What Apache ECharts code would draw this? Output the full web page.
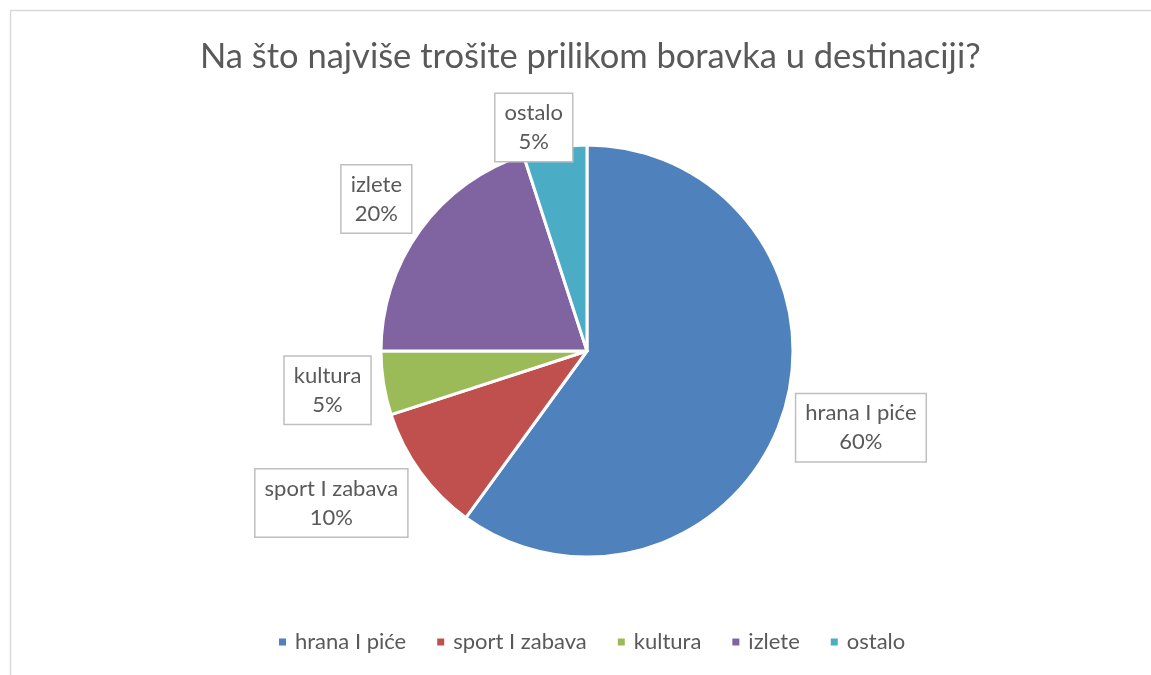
<!DOCTYPE html>
<html>
<head>
<meta charset="utf-8">
<script src="https://cdn.jsdelivr.net/npm/echarts@6/dist/echarts.min.js"></script>
<style>
  html, body { margin: 0; padding: 0; background: #fff; }
  #chart { width: 1151px; height: 675px; }
</style>
</head>
<body>
<div id="chart"></div>
<script>
// podaci
const categories = ['hrana I piće', 'sport I zabava', 'kultura', 'izlete', 'ostalo']
const values = [60, 10, 5, 20, 5]
const colors = ['#4F81BD', '#C0504D', '#9BBB59', '#8064A2', '#4BACC6']

// pomak središta oznake od ruba kruga (na sredini isječka)
const labelOffset = [[78, 13], [-89, 31], [-56, 7], [-44, -31], [-21, -20]]

const cx = 587
const cy = 351
const radius = 206
const total = values.reduce((s, v) => s + v, 0)

const chart = echarts.init(document.getElementById('chart'))

const option = {
  backgroundColor: '#fff',
  title: {
    text: 'Na što najviše trošite prilikom boravka u destinaciji?',
    left: 195,
    top: 34,
    textStyle: { fontSize: 34.5, fontWeight: 'normal', color: '#595959', fontFamily: 'Lato, sans-serif' }
  },
  legend: {
    bottom: 17,
    left: 272,
    itemWidth: 9,
    itemHeight: 9,
    itemGap: 29,
    icon: 'rect',
    textStyle: { fontSize: 22, color: '#595959', fontFamily: 'Lato, sans-serif', padding: [0, 0, 0, 3] },
    data: categories
  },
  graphic: [
    {
      type: 'rect',
      shape: { x: 10.5, y: 10.5, width: 1200, height: 800 },
      style: { fill: 'none', stroke: '#d9d9d9', lineWidth: 1.5 },
      silent: true
    }
  ],
  series: [
    {
      type: 'pie',
      center: [cx, cy],
      radius: radius,
      startAngle: 90,
      clockwise: true,
      avoidLabelOverlap: false,
      itemStyle: { borderColor: '#fff', borderWidth: 3 },
      emphasis: { disabled: true },
      labelLine: { show: false },
      label: {
        show: true,
        position: 'outside',
        formatter: '{b}\n{d}%',
        fontSize: 22,
        lineHeight: 29,
        color: '#595959',
        fontFamily: 'Lato, sans-serif',
        align: 'center',
        backgroundColor: '#fff',
        borderColor: '#bfbfbf',
        borderWidth: 1.5,
        padding: [5, 9, 4, 9]
      },
      labelLayout: (params) => {
        const i = params.dataIndex
        let before = 0
        for (let k = 0; k < i; k++) before += values[k]
        const mid = (before + values[i] / 2) / total * Math.PI * 2
        return {
          x: cx + Math.sin(mid) * radius + labelOffset[i][0],
          y: cy - Math.cos(mid) * radius + labelOffset[i][1],
          align: 'center',
          verticalAlign: 'middle'
        }
      },
      data: categories.map((name, i) => ({
        name: name,
        value: values[i],
        itemStyle: { color: colors[i] }
      }))
    }
  ]
}

chart.setOption(option)
</script>
</body>
</html>
